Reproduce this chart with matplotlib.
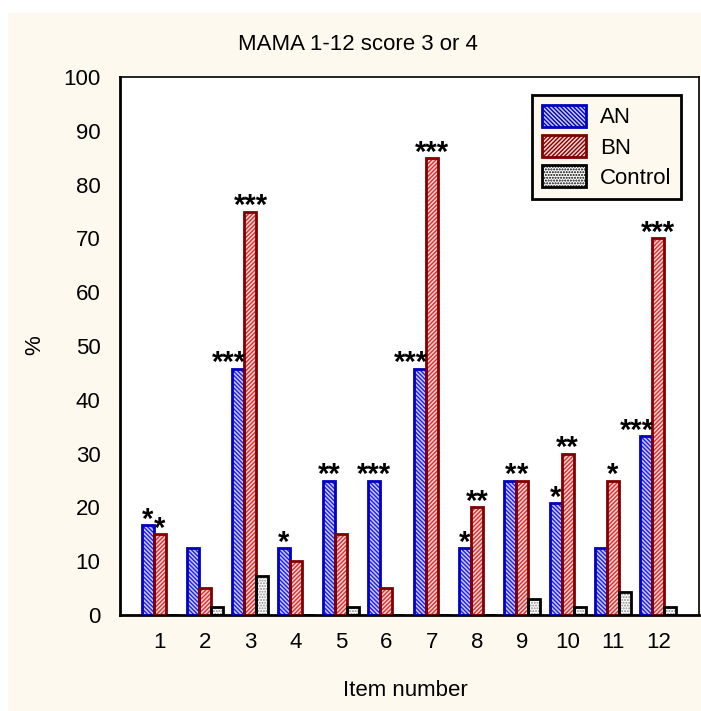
import matplotlib
matplotlib.use('Agg')
import matplotlib.pyplot as plt
from matplotlib.patches import Rectangle
import numpy as np

plt.rcParams['font.family'] = ['Liberation Sans', 'DejaVu Sans']
plt.rcParams['hatch.linewidth'] = 1.0

# ── data ─────────────────────────────────────────────────────────────────────
items = [1, 2, 3, 4, 5, 6, 7, 8, 9, 10, 11, 12]
an = [16.7, 12.5, 45.8, 12.5, 25.0, 25.0, 45.8, 12.5, 25.0, 20.8, 12.5, 33.3]
bn = [15.0, 5.0, 75.0, 10.0, 15.0, 5.0, 85.0, 20.0, 25.0, 30.0, 25.0, 70.0]
control = [0.0, 1.4, 7.2, 0.0, 1.4, 0.0, 0.0, 0.0, 2.9, 1.4, 4.3, 1.4]
an_sig = ['*', '', '***', '*', '**', '***', '***', '*', '*', '*', '', '***']
bn_sig = ['*', '', '***', '', '', '', '***', '**', '*', '**', '*', '***']

# ── style ────────────────────────────────────────────────────────────────────
CREAM = '#FEF9EF'
FS = 16
W = 0.265
STAR_FS = 21
STAR_OFF = -2   # points, baseline offset from bar top

fig = plt.figure(figsize=(7.01, 7.11), dpi=100)
fig.patch.set_facecolor('white')
fig.patches.append(Rectangle((8 / 701, 0), 1, 1 - 13 / 711, transform=fig.transFigure,
                             facecolor=CREAM, edgecolor='none', zorder=-5))

ax = fig.add_axes([120 / 701, 96 / 711, 579 / 701, 538 / 711])
ax.set_facecolor('white')

x = np.array(items, dtype=float)
# (values, offset, face, hatch colour, edge, hatch)
series = [(an, -W, '#C8C8FF', '#1E1EF0', '#0000C0', '\\' * 8),
          (bn, 0.0, '#FAD0D0', '#D83030', '#800000', '/' * 8),
          (control, W, 'white', '#8C8C8C', '#000000', '.' * 6)]

handles = []
for vals, off, fc, hc, ec, hatch in series:
    ax.bar(x + off, vals, W, facecolor=fc, edgecolor=hc, hatch=hatch,
           linewidth=0, zorder=2)
    ax.bar(x + off, vals, W, fill=False, edgecolor=ec, linewidth=2.0, zorder=3)
    handles.append(Rectangle((0, 0), 1, 1, facecolor=fc, edgecolor=hc,
                             hatch=hatch, linewidth=0))

# significance stars
def star(txt, xy, ha):
    ax.annotate(txt, xy, xytext=(0, STAR_OFF), textcoords='offset points',
                ha=ha, va='baseline', fontsize=STAR_FS, fontweight='bold',
                zorder=4)

for xi, a, b, sa, sb in zip(x, an, bn, an_sig, bn_sig):
    if sa:
        if b > a + 3 and len(sa) > 1:
            star(sa, (xi - W / 2 + 0.04, a), 'right')
        else:
            star(sa, (xi - W, a), 'center')
    if sb:
        star(sb, (xi, b), 'center')

ax.set_xlim(0.12, 12.9)
ax.set_ylim(0, 100)
ax.set_xticks(items)
ax.set_yticks(np.arange(0, 101, 10))
ax.tick_params(axis='x', direction='in', length=4, width=1.5, pad=12, labelsize=FS)
ax.tick_params(axis='y', length=0, pad=14, labelsize=FS)
for s in ['left', 'bottom']:
    ax.spines[s].set_linewidth(2.0)
for s in ['top', 'right']:
    ax.spines[s].set_linewidth(1.2)

leg = ax.legend(handles, ['AN', 'BN', 'Control'], loc='upper right',
                fontsize=FS, frameon=True, fancybox=False, framealpha=1,
                facecolor=CREAM, edgecolor='black', handlelength=2.0,
                handleheight=1.15, borderaxespad=0.8, labelspacing=0.3,
                handletextpad=0.6, borderpad=0.45)
leg.get_frame().set_linewidth(2.0)
# outlines on legend handles
for h, s in zip(leg.legend_handles, series):
    h.set_edgecolor(s[4])
    h.set_linewidth(2.0)

fig.text(358 / 701, 1 - 45 / 711, 'MAMA 1-12 score 3 or 4', ha='center',
         va='center', fontsize=FS)
fig.text(405 / 701, 1 - 690 / 711, 'Item number', ha='center', va='center',
         fontsize=FS)
fig.text(35 / 701, 1 - 345 / 711, '%', ha='center', va='center',
         fontsize=FS, rotation=90)

fig.savefig('out.png', dpi=100, facecolor='white')
